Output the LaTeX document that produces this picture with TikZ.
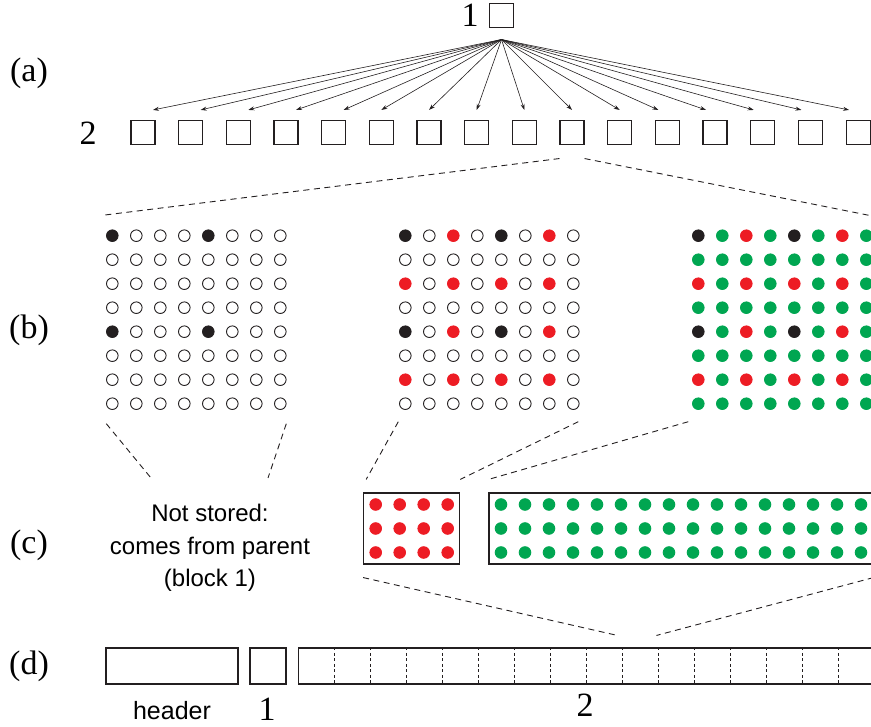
\documentclass[tikz,border=0pt]{standalone}
\usepackage{fontspec}
\setmainfont{Liberation Serif}
\setsansfont{Liberation Sans}
\usetikzlibrary{arrows.meta}

\definecolor{dotred}{RGB}{237,28,36}
\definecolor{dotgreen}{RGB}{0,166,81}
\definecolor{dotblack}{RGB}{35,31,32}

\begin{document}
\begin{tikzpicture}[x=1pt, y=-1pt,
        dot/.style={circle, line width=0.9pt, minimum size=11.6pt, inner sep=0pt},
        guide/.style={draw=dotblack, line width=0.9pt, dash pattern=on 6pt off 4.5pt},
        block/.style={draw=dotblack, line width=1.1pt, inner sep=0pt}]
    \useasboundingbox (0,0) rectangle (871,727);
    \clip (0,0) rectangle (871,727);

    % row labels
    \begin{scope}[every node/.style={font=\fontsize{34}{34}\selectfont, inner sep=0pt}]
        \node (la) at (29,73) {(a)};
        \node (lb) at (29,330) {(b)};
        \node (lc) at (29,545) {(c)};
        \node (ld) at (29,666) {(d)};
        \node (l1) at (470,15.5) {1};
        \node (l2) at (88,133.5) {2};
        \node (d1) at (267,709.5) {1};
        \node (d2) at (585,705.5) {2};
    \end{scope}

    % (a) parent block and its children
    \begin{scope}[every node/.style={block, minimum size=24pt}]
        \node (1) at (501.5,15.5) {};
        \foreach \i in {1,...,16}
            \node (2-\i) at ({143+47.67*(\i-1)},132.5) {};
    \end{scope}
    \coordinate (fan) at ([yshift=-11.5pt]1.south);
    \foreach \i/\dx in {1/10pt,2/10pt,3/10pt,4/10pt,5/10pt,6/0pt,7/0pt,8/0pt,9/0pt,10/0pt,11/0pt,12/-9pt,13/-9pt,14/-9pt,15/-9pt,16/-9pt}
        \draw[dotblack, line width=0.6pt, -{Stealth[length=6pt, width=4pt]}] (fan) -- ([xshift=\dx, yshift=10pt]2-\i.north);

    % (b) the 8x8 grids
    \foreach \g/\gx/\ka/\kb in {1/112.3/0/0, 2/405.3/0/1, 3/698.3/3/1}
        \foreach \r in {0,...,7}
            \foreach \c in {0,...,7} {
                \pgfmathtruncatemacro\k{(mod(\r,4)==0 && mod(\c,4)==0) ? 2 : ((mod(\r,2)==0 && mod(\c,2)==0) ? \kb : \ka)}
                \ifcase\k \def\dc{dotblack}\def\fc{white}\or \def\dc{dotred}\def\fc{dotred}\or \def\dc{dotblack}\def\fc{dotblack}\or \def\dc{dotgreen}\def\fc{dotgreen}\fi
                \node[dot, draw=\dc, fill=\fc] (g\g-\r-\c) at ({\gx+24*\c},{235.7+24*\r}) {};
            }
    \coordinate (zl) at (105,215);
    \coordinate (zr) at (900,221.5);
    \draw[guide] ([yshift=-13.5pt]2-10.south west) -- (zl);
    \draw[guide] ([yshift=-13.5pt]2-10.south east) -- (zr);

    % (c) stored values
    \node[block, minimum width=96pt, minimum height=71pt] (rbox) at (411.7,528.5) {};
    \node[block, minimum width=400pt, minimum height=71pt] (gbox) at (689,528.5) {};
    \foreach \r in {0,1,2} {
        \foreach \c in {0,...,3}
            \node[dot, draw=dotred, fill=dotred] (r-\r-\c) at ({375.7+24*\c},{504.5+24*\r}) {};
        \foreach \c in {0,...,15}
            \node[dot, draw=dotgreen, fill=dotgreen] (gr-\r-\c) at ({501+24*\c},{504.5+24*\r}) {};
    }
    \node[align=center, inner sep=0pt, font=\sffamily\fontsize{24}{32.5}\selectfont] (ns) at (210,548) {Not stored:\\comes from parent\\(block 1)};
    \coordinate (n1) at (151,478);
    \coordinate (n2) at (268,478);
    \draw[guide] ([xshift=-6pt, yshift=-20pt]g1-7-0.center) -- (n1);
    \draw[guide] ([xshift=6pt, yshift=-20pt]g1-7-7.center) -- (n2);
    \draw[guide] ([xshift=-7pt, yshift=-18pt]g2-7-0.center) -- ([xshift=3pt, yshift=13pt]rbox.north west);
    \draw[guide] ([xshift=5pt, yshift=-18pt]g2-7-7.center) -- ([yshift=13pt]rbox.north east);
    \draw[guide] ([xshift=-10pt, yshift=-18pt]g3-7-0.center) -- ([yshift=13pt]gbox.north west);

    % (d) file layout
    \node[block, minimum width=132pt, minimum height=36pt] (hdr) at (172,666) {};
    \node[block, minimum width=36pt, minimum height=36pt] (blk1) at (268,666) {};
    \node[block, minimum width=600pt, minimum height=36pt] (blk2) at (598.5,666) {};
    \foreach \k in {1,...,16}
        \draw[dotblack, line width=0.7pt, dash pattern=on 3pt off 2.5pt] ([xshift=36*\k pt]blk2.north west) -- ([xshift=36*\k pt]blk2.south west);
    \coordinate (c9) at ([xshift=324pt]blk2.north west);
    \coordinate (c10) at ([xshift=360pt]blk2.north west);
    \draw[guide] ([xshift=-16pt, yshift=-13pt]gbox.south east) -- ([xshift=-1.5pt, yshift=12pt]c10);
    \draw[guide] ([yshift=-13pt]rbox.south west) -- ([xshift=-4.5pt, yshift=12pt]c9);
    \node[font=\sffamily\fontsize{25}{25}\selectfont, inner sep=0pt] (hl) at (172,711) {header};
\end{tikzpicture}
\end{document}
